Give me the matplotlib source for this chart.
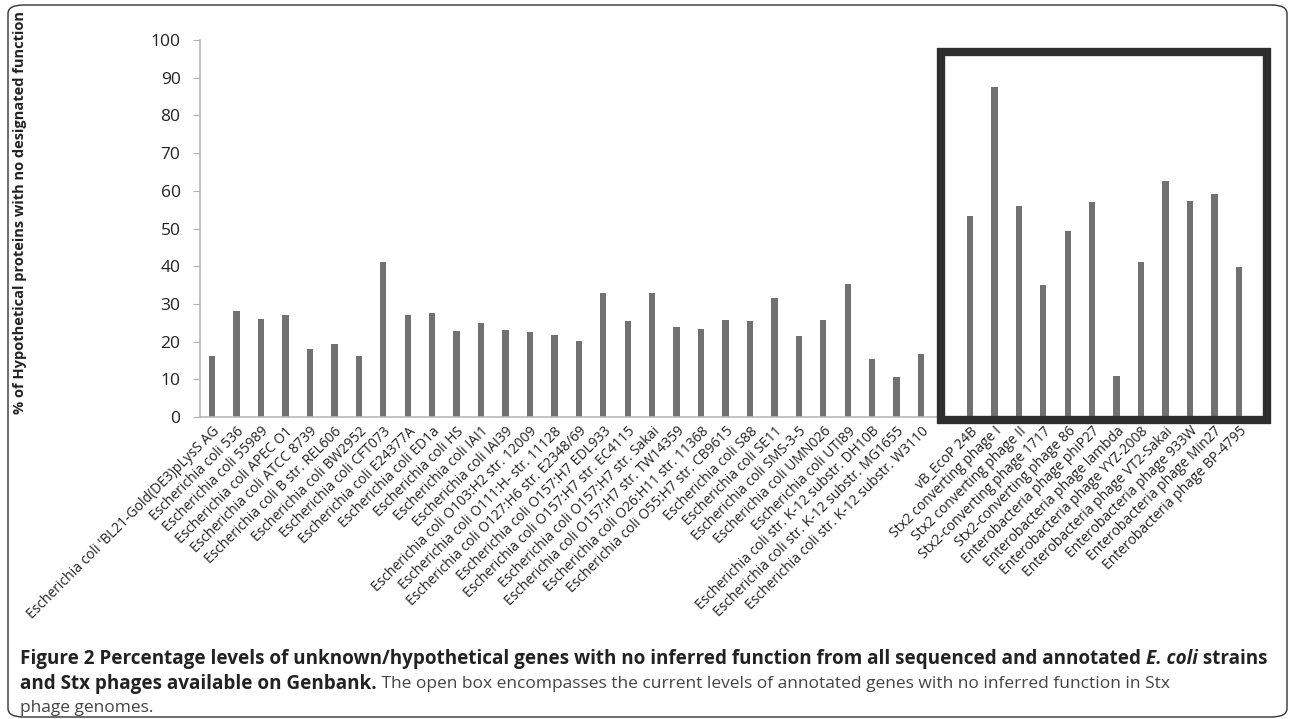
import matplotlib.pyplot as plt
from matplotlib.patches import Rectangle, FancyBboxPatch

# E. coli genomes
strains = [
    "Escherichia coli 'BL21-Gold(DE3)pLysS AG",
    "Escherichia coli 536",
    "Escherichia coli 55989",
    "Escherichia coli APEC O1",
    "Escherichia coli ATCC 8739",
    "Escherichia coli B str. REL606",
    "Escherichia coli BW2952",
    "Escherichia coli CFT073",
    "Escherichia coli E24377A",
    "Escherichia coli ED1a",
    "Escherichia coli HS",
    "Escherichia coli IAI1",
    "Escherichia coli IAI39",
    "Escherichia coli O103:H2 str. 12009",
    "Escherichia coli O111:H- str. 11128",
    "Escherichia coli O127:H6 str. E2348/69",
    "Escherichia coli O157:H7 EDL933",
    "Escherichia coli O157:H7 str. EC4115",
    "Escherichia coli O157:H7 str. Sakai",
    "Escherichia coli O157:H7 str. TW14359",
    "Escherichia coli O26:H11 str. 11368",
    "Escherichia coli O55:H7 str. CB9615",
    "Escherichia coli S88",
    "Escherichia coli SE11",
    "Escherichia coli SMS-3-5",
    "Escherichia coli UMN026",
    "Escherichia coli UTI89",
    "Escherichia coli str. K-12 substr. DH10B",
    "Escherichia coli str. K-12 substr. MG1655",
    "Escherichia coli str. K-12 substr. W3110",
]
strain_values = [
    16.1, 28.2, 26.1, 27.0, 18.0, 19.4, 16.1, 41.1, 27.0, 27.6,
    22.9, 24.9, 23.1, 22.6, 21.7, 20.2, 32.9, 25.4, 32.9, 23.9,
    23.3, 25.8, 25.4, 31.6, 21.4, 25.8, 35.4, 15.3, 10.7, 16.7,
]

# Stx phages
phages = [
    "vB_EcoP 24B",
    "Stx2 converting phage I",
    "Stx2 converting phage II",
    "Stx2-converting phage 1717",
    "Stx2-converting phage 86",
    "Enterobacteria phage phiP27",
    "Enterobacteria phage lambda",
    "Enterobacteria phage YYZ-2008",
    "Enterobacteria phage VT2-Sakai",
    "Enterobacteria phage 933W",
    "Enterobacteria phage Min27",
    "Enterobacteria phage BP-4795",
]
phage_values = [
    53.4, 87.6, 56.0, 35.0, 49.3, 56.9, 10.8, 41.2, 62.6, 57.3, 59.1, 39.8,
]

yticks = list(range(0, 101, 10))

# one empty slot between the two groups
labels = strains + [""] + phages
values = strain_values + [0] + phage_values
positions = list(range(len(labels)))
bar_pos = [p for p, lab in zip(positions, labels) if lab]
bar_val = [v for v, lab in zip(values, labels) if lab]

plt.rcParams["font.family"] = ["Open Sans", "DejaVu Sans"]

fig = plt.figure(figsize=(12.9, 7.19), dpi=100)
ax = fig.add_axes([200 / 1290, 1 - 417 / 719, 1051 / 1290, 377 / 719])

ax.bar(bar_pos, bar_val, width=0.26, color="#717171", edgecolor="none")

ax.set_xlim(-0.5, len(labels) - 0.5)
ax.set_ylim(0, 100)
ax.set_yticks(yticks)
ax.tick_params(axis="y", length=5, color="#b0b0b0", labelsize=12.5,
               labelcolor="#222222", pad=9)
ax.set_xticks(positions)
ax.set_xticklabels(labels, rotation=45, ha="right", va="top",
                   rotation_mode="anchor", fontsize=10, color="#222222")
ax.tick_params(axis="x", length=0, pad=5)

for side in ["top", "right"]:
    ax.spines[side].set_visible(False)
for side in ["left", "bottom"]:
    ax.spines[side].set_color("#b8b8b8")
    ax.spines[side].set_linewidth(1.2)

# open box around the phages
box = Rectangle((29.8, -0.7), 13.35, 97.4, fill=False, edgecolor="#2e2e2e",
                linewidth=6, clip_on=False, zorder=5)
ax.add_patch(box)

fig.text(20 / 1290, 1 - 212 / 719,
         "% of Hypothetical proteins with no designated function",
         rotation=90, ha="center", va="center", fontsize=10.5,
         fontweight="bold", color="#222222")

# page frame
frame = FancyBboxPatch((8 / 1290, 2 / 719), 1279 / 1290, 712 / 719,
                       boxstyle="round,pad=0,rounding_size=0.012",
                       transform=fig.transFigure, fill=False,
                       edgecolor="#333333", linewidth=1.0)
fig.patches.append(frame)

# caption, built piece by piece
caption = [
    [("Figure 2 Percentage levels of unknown/hypothetical genes with no "
      "inferred function from all sequenced and annotated ", "bold", "normal"),
     ("E. coli", "bold", "italic"),
     (" strains", "bold", "normal")],
    [("and Stx phages available on Genbank.", "bold", "normal"),
     (" The open box encompasses the current levels of annotated genes "
      "with no inferred function in Stx", "normal", "normal")],
    [("phage genomes.", "normal", "normal")],
]
line_y = [659, 684, 708]

renderer = fig.canvas.get_renderer()
for parts, y in zip(caption, line_y):
    x = 20 / 1290
    for txt, weight, style in parts:
        size = 13.6 if weight == "bold" else 12.5
        t = fig.text(x, 1 - y / 719, txt, ha="left", va="center",
                     fontsize=size, fontweight=weight, fontstyle=style,
                     color="#222222" if weight == "bold" else "#444444")
        bb = t.get_window_extent(renderer)
        x += bb.width / 1290

fig.savefig("out.png", dpi=100)
